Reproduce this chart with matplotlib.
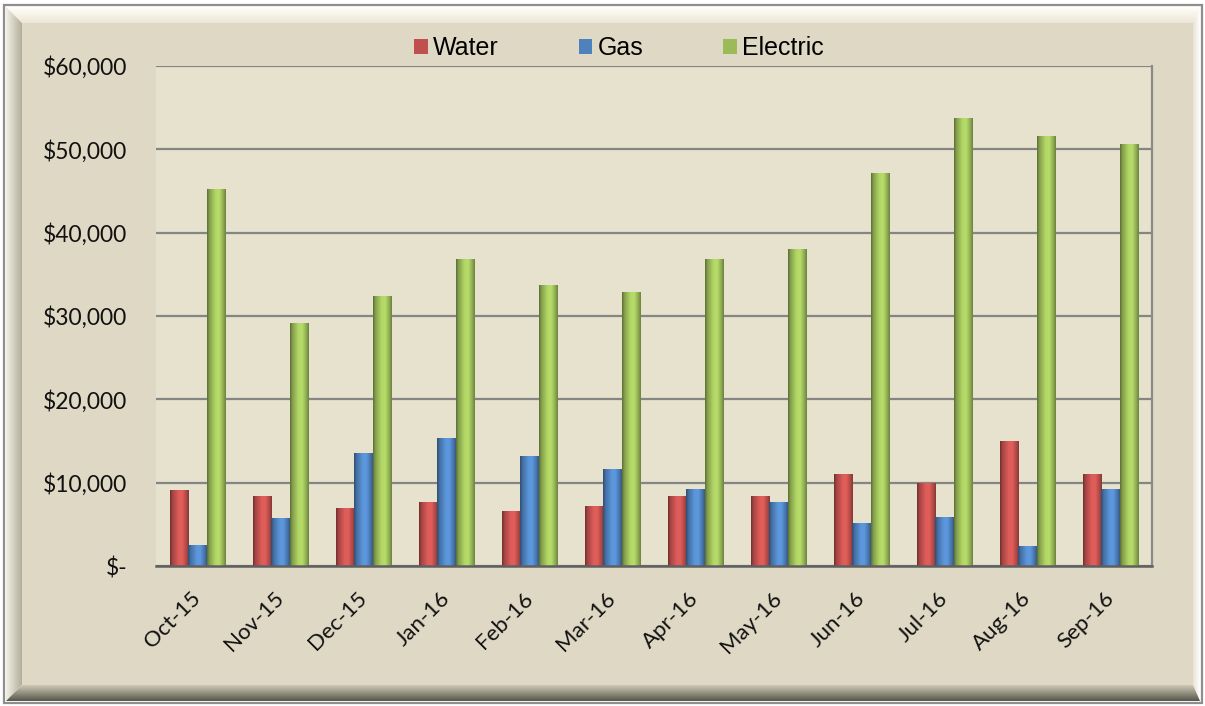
import numpy as np
import matplotlib
matplotlib.use("Agg")
import matplotlib.pyplot as plt
from matplotlib.patches import Polygon, Rectangle
from matplotlib.colors import to_rgb

months = ["Oct-15", "Nov-15", "Dec-15", "Jan-16", "Feb-16", "Mar-16",
          "Apr-16", "May-16", "Jun-16", "Jul-16", "Aug-16", "Sep-16"]
water = [9160, 8360, 7000, 7720, 6560, 7240, 8360, 8360, 11040, 9960, 15040, 11080]
gas = [2560, 5760, 13600, 15400, 13200, 11680, 9240, 7640, 5160, 5880, 2400, 9240]
electric = [45240, 29120, 32400, 36840, 33760, 32840, 36800, 38040, 47200, 53720, 51560, 50640]
series_names = ["Water", "Gas", "Electric"]
series_colors = ["#C0504D", "#4F81BD", "#9BBB59"]
yticks = [0, 10000, 20000, 30000, 40000, 50000, 60000]
ytick_labels = ["$-", "$10,000", "$20,000", "$30,000", "$40,000", "$50,000", "$60,000"]

W, H = 1205, 706
fig = plt.figure(figsize=(W / 100, H / 100), dpi=100)
fig.patch.set_facecolor("white")

# ---- background frame (pixel coordinates) ----
bg = fig.add_axes([0, 0, 1, 1], zorder=-5)
bg.set_xlim(0, W)
bg.set_ylim(H, 0)
bg.axis("off")

face = "#DFD8C4"
x0, y0, x1, y1 = 6, 7, 1200, 701
ix0, iy0, ix1, iy1 = 22, 23, 1193, 685


def grad_poly(pts, c_a, c_b, vertical):
    poly = Polygon(pts, closed=True, facecolor="none", edgecolor="none")
    bg.add_patch(poly)
    ca, cb = np.array(to_rgb(c_a)), np.array(to_rgb(c_b))
    t = np.linspace(0, 1, 64)
    g = ca[None, :] * (1 - t[:, None]) + cb[None, :] * t[:, None]
    xs = [p[0] for p in pts]
    ys = [p[1] for p in pts]
    img = g[:, None, :] if vertical else g[None, :, :]
    ext = [min(xs), max(xs), max(ys), min(ys)]
    im = bg.imshow(img, extent=ext, aspect="auto", interpolation="bilinear", zorder=1)
    im.set_clip_path(poly)


bg.add_patch(Rectangle((ix0, iy0), ix1 - ix0, iy1 - iy0, facecolor=face, edgecolor="none", zorder=0))
grad_poly([(x0, y0), (x1, y0), (ix1, iy0), (ix0, iy0)], "#FFFFF8", "#ECE6D6", vertical=True)
grad_poly([(x0, y0), (ix0, iy0), (ix0, iy1), (x0, y1)], "#F2EFE4", "#B3AE9C", vertical=False)
grad_poly([(x1, y0), (x1, y1), (ix1, iy1), (ix1, iy0)], "#E8E2D2", "#FFFFFF", vertical=False)
grad_poly([(ix0, iy1), (ix1, iy1), (x1, y1), (x0, y1)], "#CFC9B6", "#55574A", vertical=True)
bg.add_patch(Rectangle((4, 5), 1198, 698, facecolor="none", edgecolor="#8E8E8E", linewidth=1.6, zorder=3))

# ---- plot area ----
L, R, T, B = 156, 1152, 66, 566
ax = fig.add_axes([L / W, 1 - B / H, (R - L) / W, (B - T) / H])
ax.set_facecolor("#E6E2CD")

n = len(months)
x = np.arange(n)
bw = 0.222
offsets = [-bw, 0, bw]
data = [water, gas, electric]

prof_t = [0.0, 0.12, 0.45, 0.65, 0.88, 1.0]
prof_f = [0.6, 0.85, 1.15, 1.18, 0.9, 0.7]

for vals, off, col, name in zip(data, offsets, series_colors, series_names):
    bars = ax.bar(x + off, vals, width=bw, color=col, label=name, zorder=3, linewidth=0)
    base = np.array(to_rgb(col))
    t = np.linspace(0, 1, 40)
    f = np.interp(t, prof_t, prof_f)
    g = np.clip(base[None, :] * f[:, None], 0, 1)[None, :, :]
    for b in bars:
        im = ax.imshow(g, extent=[b.get_x(), b.get_x() + b.get_width(), 0, b.get_height()],
                       aspect="auto", interpolation="bilinear", zorder=4)
        im.set_clip_path(b)

ax.set_xlim(-0.5, n - 0.5)
ax.set_ylim(0, 60000)

ax.set_yticks(yticks)
ax.set_yticklabels(ytick_labels, fontfamily="Lato", fontsize=16.5, color="#111111")
ax.yaxis.grid(True, color="#858585", linewidth=1.6, zorder=1)
ax.set_axisbelow(True)
ax.tick_params(axis="y", length=0, pad=20.5)
ax.set_xticks(x)
ax.set_xticklabels(months, rotation=45, ha="right", va="center", rotation_mode="anchor",
                   fontfamily="Lato", fontsize=16, color="#111111")
ax.tick_params(axis="x", length=0, pad=21)

for s in ["left", "top"]:
    ax.spines[s].set_visible(False)
ax.spines["right"].set_color("#8A8A8A")
ax.spines["right"].set_linewidth(1.6)
ax.spines["bottom"].set_color("#5F5F5F")
ax.spines["bottom"].set_linewidth(1.8)
ax.spines["bottom"].set_zorder(5)

leg = fig.legend(loc="center", bbox_to_anchor=(619 / W, 1 - 48 / H), ncol=3, frameon=False,
                 prop={"family": "Liberation Sans", "size": 18},
                 handlelength=0.55, handleheight=0.55, handletextpad=0.2, columnspacing=3.2)

fig.savefig("out.png", dpi=100, facecolor=fig.get_facecolor())
